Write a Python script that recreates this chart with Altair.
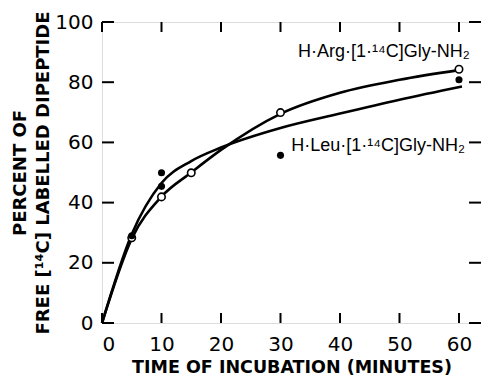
import altair as alt
import pandas as pd

# data points
arg_t = [5, 10, 15, 30, 60]
arg_pct = [28.3, 41.9, 49.9, 69.9, 84.3]
leu_t = [5, 10, 10, 30, 60]
leu_pct = [29.0, 45.4, 49.9, 55.7, 80.8]

# smooth hand-drawn curves
arg_curve_t = [0, 5, 10, 15, 20, 30, 40, 50, 60]
arg_curve_pct = [0, 28, 42, 50, 57.5, 69.5, 76.5, 80.8, 84]
leu_curve_t = [0, 5, 10, 15, 20, 30, 40, 50, 60.5]
leu_curve_pct = [0, 29.5, 46.5, 53.8, 58.3, 64.8, 69.6, 74.2, 78.6]

x_ticks = [0, 10, 20, 30, 40, 50, 60]
y_ticks = [0, 20, 40, 60, 80, 100]

labels = ["H\u00b7Arg\u00b7[1\u00b7\u00b9\u2074C]Gly-NH\u2082", "H\u00b7Leu\u00b7[1\u00b7\u00b9\u2074C]Gly-NH\u2082"]
label_t = [61.8, 31.8]
label_pct = [88.5, 57.0]
label_align = ["right", "left"]

W, H = 379, 301
FONT = "DejaVu Sans"
LFONT = "Liberation Sans"

curves = pd.DataFrame(
    {"t": arg_curve_t + leu_curve_t,
     "pct": arg_curve_pct + leu_curve_pct,
     "series": ["Arg"] * len(arg_curve_t) + ["Leu"] * len(leu_curve_t)}
)
arg_df = pd.DataFrame({"t": arg_t, "pct": arg_pct})
leu_df = pd.DataFrame({"t": leu_t, "pct": leu_pct})
xt = pd.DataFrame({"t": x_ticks})
yt = pd.DataFrame({"pct": y_ticks})
lab = pd.DataFrame({"t": label_t, "pct": label_pct, "text": labels, "align": label_align})

xs = alt.Scale(domain=[0, 63.7], nice=False)
ys = alt.Scale(domain=[0, 100], nice=False)

xaxis = alt.Axis(values=x_ticks, ticks=False, domain=False, grid=False, labelPadding=11,
                 labelFontSize=20, labelFont=FONT, labelColor="black",
                 title="TIME OF INCUBATION (MINUTES)", titleFont=FONT, titleFontSize=17.5,
                 titleFontWeight="bold", titleColor="black", titlePadding=4)
yaxis = alt.Axis(values=y_ticks, ticks=False, domain=False, grid=False, labelPadding=9,
                 labelFontSize=20, labelFont=FONT, labelColor="black",
                 title=["PERCENT OF", "FREE [\u00b9\u2074C] LABELLED DIPEPTIDE"],
                 titleFont=FONT, titleFontSize=18, titleFontWeight="bold",
                 titleColor="black", titlePadding=2, titleLineHeight=23)

lines = alt.Chart(curves).mark_line(color="black", strokeWidth=2.6, interpolate="monotone").encode(
    x=alt.X("t:Q", scale=xs, axis=xaxis),
    y=alt.Y("pct:Q", scale=ys, axis=yaxis),
    detail="series:N",
)

open_pts = alt.Chart(arg_df).mark_point(shape="circle", filled=True, fill="white", stroke="black",
                                        strokeWidth=1.6, size=55, opacity=1).encode(
    x=alt.X("t:Q", scale=xs), y=alt.Y("pct:Q", scale=ys))
filled_pts = alt.Chart(leu_df).mark_point(shape="circle", filled=True, color="black",
                                          size=50, opacity=1).encode(
    x=alt.X("t:Q", scale=xs), y=alt.Y("pct:Q", scale=ys))

text_r = alt.Chart(lab[lab["align"] == "right"]).mark_text(
    align="right", baseline="alphabetic", font=LFONT, fontSize=18, color="black").encode(
    x=alt.X("t:Q", scale=xs), y=alt.Y("pct:Q", scale=ys), text="text:N")
text_l = alt.Chart(lab[lab["align"] == "left"]).mark_text(
    align="left", baseline="alphabetic", font=LFONT, fontSize=18, color="black").encode(
    x=alt.X("t:Q", scale=xs), y=alt.Y("pct:Q", scale=ys), text="text:N")

tk = dict(color="black", strokeWidth=2)
bottom_ticks = alt.Chart(xt).mark_rule(**tk).encode(
    x=alt.X("t:Q", scale=xs), y=alt.value(H), y2=alt.value(H - 10))
top_ticks = alt.Chart(xt).mark_rule(**tk).encode(
    x=alt.X("t:Q", scale=xs), y=alt.value(0), y2=alt.value(10))
left_ticks = alt.Chart(yt).mark_rule(**tk).encode(
    y=alt.Y("pct:Q", scale=ys), x=alt.value(0), x2=alt.value(12))
right_ticks = alt.Chart(yt).mark_rule(**tk).encode(
    y=alt.Y("pct:Q", scale=ys), x=alt.value(W), x2=alt.value(W - 12))

chart = alt.layer(
    bottom_ticks, top_ticks, left_ticks, right_ticks,
    lines, open_pts, filled_pts, text_r, text_l
).properties(
    width=W, height=H,
    autosize=alt.AutoSizeParams(type="none"),
    padding={"left": 94, "top": 14, "right": 0, "bottom": 57},
).configure_view(stroke="black", strokeWidth=2.5).configure(background="white")

chart.save("out.html", embed_options={"renderer": "svg", "actions": False})
